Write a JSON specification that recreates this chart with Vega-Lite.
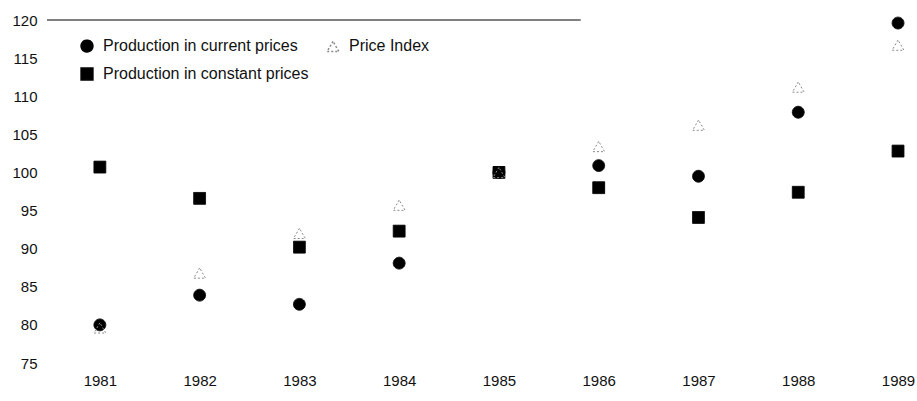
{
  "$schema": "https://vega.github.io/schema/vega-lite/v6.json",
  "width": 870,
  "height": 343,
  "autosize": {"type": "none"},
  "padding": {"left": 40, "top": 20, "right": 7, "bottom": 38},
  "background": "white",
  "config": {
    "view": {"stroke": null},
    "font": "Liberation Sans",
    "axis": {"labelFont": "Liberation Sans", "labelFontSize": 15, "labelColor": "#111", "domain": false, "ticks": false, "grid": false, "title": null}
  },
  "datasets": {
    "points": [
      {"year": 1981, "series": "Production in current prices", "value": 80.0},
      {"year": 1982, "series": "Production in current prices", "value": 83.9},
      {"year": 1983, "series": "Production in current prices", "value": 82.7},
      {"year": 1984, "series": "Production in current prices", "value": 88.1},
      {"year": 1985, "series": "Production in current prices", "value": 100.0},
      {"year": 1986, "series": "Production in current prices", "value": 100.9},
      {"year": 1987, "series": "Production in current prices", "value": 99.5},
      {"year": 1988, "series": "Production in current prices", "value": 107.9},
      {"year": 1989, "series": "Production in current prices", "value": 119.6},
      {"year": 1981, "series": "Production in constant prices", "value": 100.7},
      {"year": 1982, "series": "Production in constant prices", "value": 96.6},
      {"year": 1983, "series": "Production in constant prices", "value": 90.2},
      {"year": 1984, "series": "Production in constant prices", "value": 92.3},
      {"year": 1985, "series": "Production in constant prices", "value": 100.0},
      {"year": 1986, "series": "Production in constant prices", "value": 98.0},
      {"year": 1987, "series": "Production in constant prices", "value": 94.1},
      {"year": 1988, "series": "Production in constant prices", "value": 97.4},
      {"year": 1989, "series": "Production in constant prices", "value": 102.8},
      {"year": 1981, "series": "Price Index", "value": 79.6},
      {"year": 1982, "series": "Price Index", "value": 86.8},
      {"year": 1983, "series": "Price Index", "value": 92.0},
      {"year": 1984, "series": "Price Index", "value": 95.7},
      {"year": 1985, "series": "Price Index", "value": 100.0},
      {"year": 1986, "series": "Price Index", "value": 103.4},
      {"year": 1987, "series": "Price Index", "value": 106.2},
      {"year": 1988, "series": "Price Index", "value": 111.2},
      {"year": 1989, "series": "Price Index", "value": 116.7}
    ],
    "topline": [{"x": 1980.47, "x2": 1985.82, "y": 120}]
  },
  "layer": [
    {
      "data": {"name": "points"},
      "mark": {"type": "point", "size": 140, "opacity": 1, "strokeWidth": 1},
      "encoding": {
        "x": {
          "field": "year", "type": "quantitative",
          "scale": {"domain": [1980.4, 1989.12], "nice": false, "zero": false},
          "axis": {"values": [1981, 1982, 1983, 1984, 1985, 1986, 1987, 1988, 1989], "format": "d", "labelPadding": 10, "labelFlush": false, "labelOverlap": false}
        },
        "y": {
          "field": "value", "type": "quantitative",
          "scale": {"domain": [75, 120], "nice": false, "zero": false},
          "axis": {"tickCount": 10, "format": "d", "labelPadding": 3, "labelFlush": false, "labelOverlap": false, "labelSeparation": 0, "labelBound": false}
        },
        "shape": {
          "field": "series", "type": "nominal",
          "scale": {"domain": ["Production in current prices", "Production in constant prices", "Price Index"], "range": ["circle", "square", "triangle-up"]},
          "legend": {"title": null, "orient": "none", "legendX": 39, "legendY": 18, "columns": 2, "columnPadding": 15, "rowPadding": 10, "labelFontSize": 16, "labelFont": "Liberation Sans", "labelColor": "#111", "labelOffset": 8, "symbolSize": 140, "padding": 0, "labelLimit": 400}
        },
        "fill": {
          "field": "series", "type": "nominal",
          "scale": {"domain": ["Production in current prices", "Production in constant prices", "Price Index"], "range": ["#000", "#000", "transparent"]},
          "legend": {"title": null}
        },
        "stroke": {
          "field": "series", "type": "nominal",
          "scale": {"domain": ["Production in current prices", "Production in constant prices", "Price Index"], "range": ["#000", "#000", "#8a8a8a"]},
          "legend": {"title": null}
        },
        "strokeDash": {
          "field": "series", "type": "nominal",
          "scale": {"domain": ["Production in current prices", "Production in constant prices", "Price Index"], "range": [[1, 0], [1, 0], [2, 2]]},
          "legend": {"title": null}
        }
      }
    },
    {
      "data": {"name": "topline"},
      "mark": {"type": "rule", "color": "#000", "strokeWidth": 1},
      "encoding": {
        "x": {"field": "x", "type": "quantitative"},
        "x2": {"field": "x2"},
        "y": {"field": "y", "type": "quantitative"}
      }
    }
  ]
}
